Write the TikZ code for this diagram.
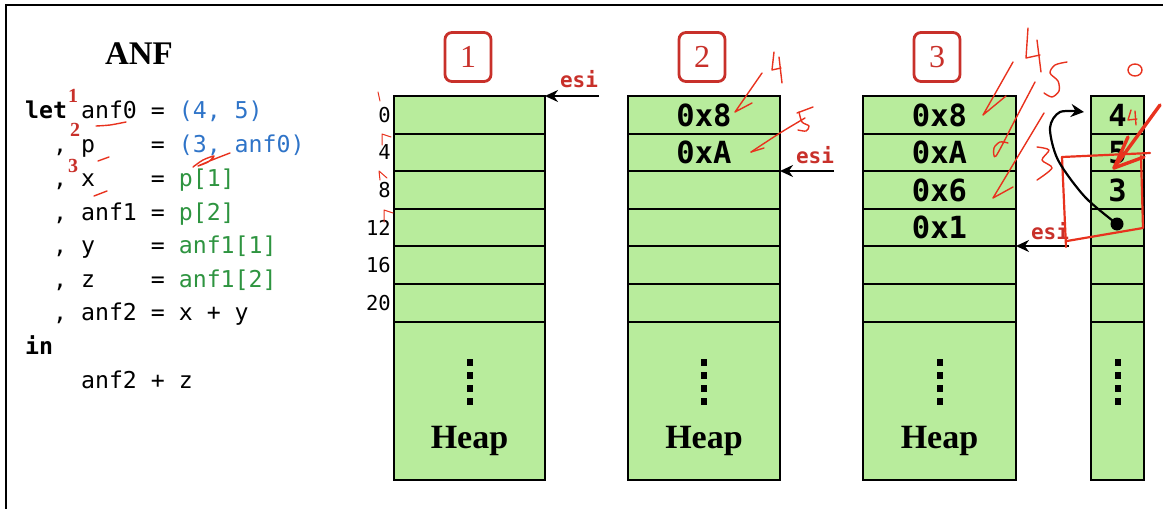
\documentclass[tikz,border=0pt]{standalone}
\usepackage{fontspec}
\setmonofont{DejaVu Sans Mono}
\newfontfamily\serifb{Liberation Serif}
\usetikzlibrary{arrows.meta}
\definecolor{cell}{HTML}{B8EC9C}
\definecolor{cblue}{HTML}{2F74C8}
\definecolor{cgreen}{HTML}{2E9440}
\definecolor{tred}{HTML}{C8302A}
\definecolor{hred}{HTML}{E8321E}
\tikzset{
  cellbox/.style={draw=black, line width=2pt, fill=cell, inner sep=0pt, outer sep=0pt},
  rowline/.style={line width=2pt},
  code/.style={anchor=base west, inner sep=0pt, font=\ttfamily\fontsize{23.2}{23.2}\selectfont},
  cellval/.style={font=\ttfamily\bfseries\fontsize{30.5}{30.5}\selectfont, inner sep=0pt},
  addr/.style={anchor=east, inner sep=0pt, font=\ttfamily\fontsize{20.5}{20.5}\selectfont},
  heaptext/.style={font=\serifb\bfseries\fontsize{34}{34}\selectfont, inner sep=0pt},
  numbox/.style={draw=tred, line width=2.8pt, rounded corners=7pt, minimum width=46pt, minimum height=49pt, text=tred, font=\serifb\fontsize{32}{32}\selectfont},
  esitext/.style={text=tred, font=\ttfamily\bfseries\fontsize{21}{21}\selectfont, inner sep=0pt},
  esiarrow/.style={-{Stealth[length=13pt,width=12pt]}, line width=2pt},
  supnum/.style={text=tred, font=\serifb\bfseries\fontsize{20}{20}\selectfont, inner sep=0pt},
  redink/.style={draw=hred, line width=1.4pt, line cap=round, line join=round},
}
\newcommand\heapcolumn[3]{%
  \foreach \i/\t/\h in {0/96/38,1/134/37,2/171/38,3/209/37,4/246/38,5/284/38}{
    \node[cellbox, minimum width=#3pt, minimum height=\h pt, anchor=north west] (#1r\i) at (#2,\t) {};
  }
  \node[cellbox, minimum width=#3pt, minimum height=158pt, anchor=north west] (#1h) at (#2,322) {};
  \foreach \i in {0,...,5}{
    \draw[rowline] (#1r\i.north west) -- (#1r\i.north east);
  }
  \draw[rowline] (#1h.north west) -- (#1h.north east);
  \foreach \d in {0,1,2,3}{
    \fill ([xshift=-3pt,yshift=-37pt-13pt*\d]#1h.north) rectangle ++(6,7);
  }
}
\begin{document}
\begin{tikzpicture}[x=1pt,y=-1pt]
\useasboundingbox (0,0) rectangle (1163,509);
% frame
\draw[line width=2pt] (6,509) -- (6,5) -- (1163,5);

% title and code
\node[font=\serifb\bfseries\fontsize{33}{33}\selectfont, inner sep=0pt] (title) at (139,54) {ANF};
\node[code] (l1) at (25,118) {\textbf{let}~anf0~=~\textcolor{cblue}{(4,~5)}};
\node[code] (l2) at (25,152) {~~,~p~~~~=~\textcolor{cblue}{(3,~anf0)}};
\node[code] (l3) at (25,186) {~~,~x~~~~=~\textcolor{cgreen}{p[1]}};
\node[code] (l4) at (25,220) {~~,~anf1~=~\textcolor{cgreen}{p[2]}};
\node[code] (l5) at (25,253) {~~,~y~~~~=~\textcolor{cgreen}{anf1[1]}};
\node[code] (l6) at (25,287) {~~,~z~~~~=~\textcolor{cgreen}{anf1[2]}};
\node[code] (l7) at (25,320) {~~,~anf2~=~x~+~y};
\node[code] (l8) at (25,354) {\textbf{in}};
\node[code] (l9) at (25,388) {~~~~anf2~+~z};
\node[supnum] (s1) at (73,96) {1};
\node[supnum] (s2) at (75,130) {2};
\node[supnum] (s3) at (73,166) {3};
% handwritten marks in code
\draw[redink] plot[smooth] coordinates {(96,126) (110,125) (126,122)};
\draw[redink] (98,161) -- (109,157);
\draw[redink] (94,196) -- (107,191);
\draw[redink] plot[smooth] coordinates {(193,167) (203,160) (214,156) (208,162) (198,166) (212,160) (230,153)};

% columns
\heapcolumn{ca}{394}{151}
\heapcolumn{cb}{628}{152}
\heapcolumn{cc}{863}{153}
\heapcolumn{cd}{1091}{53}
\node[heaptext] (ha) at ([yshift=-119pt]cah.north) {Heap};
\node[heaptext] (hb) at ([yshift=-119pt]cbh.north) {Heap};
\node[heaptext] (hc) at ([yshift=-119pt]cch.north) {Heap};

% addresses
\node[addr] (a0) at (391,115) {0};
\node[addr] (a1) at (391,152.5) {4};
\node[addr] (a2) at (391,190) {8};
\node[addr] (a3) at (391,228) {12};
\node[addr] (a4) at (391,265.5) {16};
\node[addr] (a5) at (391,303) {20};
\draw[redink, line width=1pt] (378,92) -- (380,101);
\draw[redink, line width=1pt] (382,145) -- (382,134) -- (391,137);
\draw[redink, line width=1pt] (380,180) -- (379,171) -- (387,178);
\draw[redink, line width=1pt] (384,222) -- (384,210) -- (393,213);

% cell values
\node[cellval] (vb0) at (cbr0) {0x8};
\node[cellval] (vb1) at (cbr1) {0xA};
\node[cellval] (vc0) at (ccr0) {0x8};
\node[cellval] (vc1) at (ccr1) {0xA};
\node[cellval] (vc2) at (ccr2) {0x6};
\node[cellval] (vc3) at (ccr3) {0x1};
\node[cellval] (vd0) at (cdr0) {4};
\node[cellval] (vd1) at (cdr1) {5};
\node[cellval] (vd2) at (cdr2) {3};

% step boxes
\node[numbox] (b1) at (468,57) {1};
\node[numbox] (b2) at (702,57) {2};
\node[numbox] (b3) at (937,57) {3};

% esi pointers
\node[esitext] (e1) at (579,79) {esi};
\coordinate (e1s) at (599,96);
\draw[esiarrow] (e1s) -- (car0.north east);
\node[esitext] (e2) at (815,155) {esi};
\coordinate (e2s) at (834,171);
\draw[esiarrow] (e2s) -- (cbr2.north east);
\node[esitext] (e3) at (1050,231) {esi};
\coordinate (e3s) at (1069,246);
\draw[esiarrow] (e3s) -- (ccr4.north east);

% handwritten notes, column 2
\draw[redink] (774,52) -- (772,70) -- (781,68);
\draw[redink] (779,57) -- (782,83);
\draw[redink] (762,73) -- (735,112) -- (752,103);
\draw[redink] plot[smooth] coordinates {(797,113) (813,107)};
\draw[redink] plot[smooth] coordinates {(799,112) (802,122) (809,126) (806,131) (798,130)};
\draw[redink] plot[smooth] coordinates {(805,118) (780,133) (751,152)};
\draw[redink] (751,152) -- (764,148);

% handwritten notes, column 3
\draw[redink] (1028,28) -- (1026,58) -- (1040,55);
\draw[redink] (1037,40) -- (1041,72);
\draw[redink] plot[smooth] coordinates {(1067,62) (1055,65) (1050,73) (1058,81) (1059,91) (1052,97) (1044,93)};
\draw[redink] (1013,62) -- (983,115) -- (1006,96);
\draw[redink] plot[smooth] coordinates {(1035,82) (1015,120) (996,156) (994,148) (1000,142) (1008,143)};
\draw[redink] (1044,113) -- (993,198) -- (1013,187);
\draw[redink] plot[smooth] coordinates {(1037,147) (1049,150) (1042,160) (1052,168) (1037,180)};

% right column annotations
\draw[redink, line width=2.2pt] (1062,157) -- (1150,153);
\draw[redink, line width=2.2pt] (1141,156) -- (1143,228) -- (1067,241);
\draw[redink, line width=2.2pt] (1062,157) -- (1066,247);
\draw[redink, line width=3.4pt] (1160,105) -- (1114,168);
\draw[redink, line width=3.4pt] (1128,137) -- (1114,168) -- (1144,157);
\draw[redink] (1131,110) -- (1128,120) -- (1137,119);
\draw[redink] (1135,111) -- (1136,125);
\draw[redink] (1135,70) ellipse[x radius=7pt, y radius=6pt];

% pointer from the new pair to the first pair
\node[circle, fill=black, inner sep=0pt, minimum size=13pt] (dot) at (1117,224) {};
\coordinate (tgt) at (1084,112);
\draw[line width=2.2pt, -{Stealth[length=13pt,width=13pt]}] plot[smooth] coordinates {(dot) (1085,197) (1058,160) (1050,128) (1060,112) (tgt)};
\end{tikzpicture}
\end{document}
